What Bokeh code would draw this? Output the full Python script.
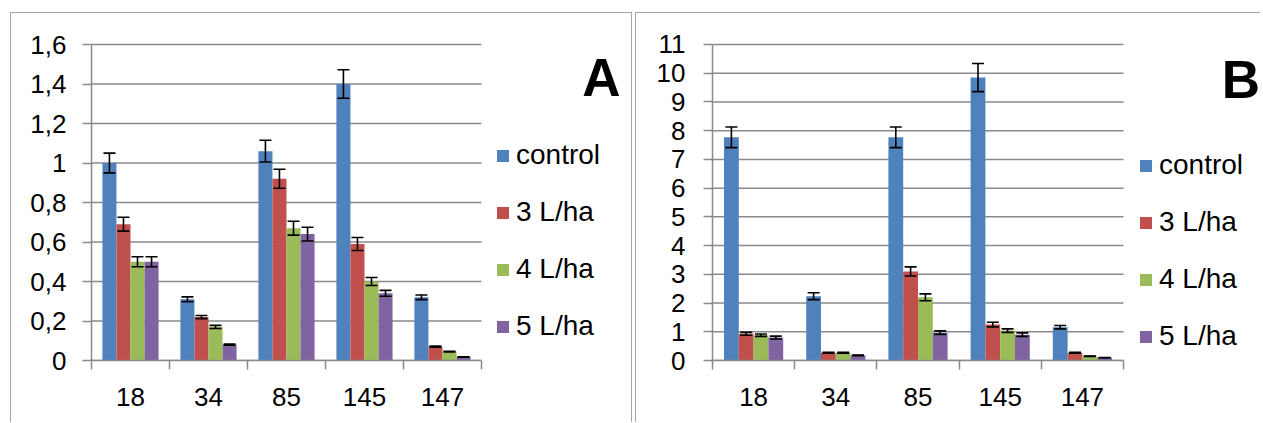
from bokeh.plotting import figure
from bokeh.layouts import row
from bokeh.models import ColumnDataSource, Whisker, TeeHead, FixedTicker, Range1d, Label
from bokeh.embed import file_html
from bokeh.resources import INLINE

days = ["18", "34", "85", "145", "147"]
series = ["control", "3 L/ha", "4 L/ha", "5 L/ha"]
colors = ["#4F81BD", "#C0504D", "#9BBB59", "#8064A2"]

# Panel A values and errors
a_control = [1.00, 0.31, 1.06, 1.40, 0.32]
a_3 = [0.69, 0.22, 0.92, 0.59, 0.07]
a_4 = [0.50, 0.17, 0.67, 0.40, 0.045]
a_5 = [0.50, 0.08, 0.64, 0.34, 0.018]
a_control_err = [0.05, 0.012, 0.055, 0.072, 0.012]
a_3_err = [0.035, 0.008, 0.048, 0.033, 0.003]
a_4_err = [0.025, 0.008, 0.035, 0.02, 0.002]
a_5_err = [0.025, 0.003, 0.035, 0.015, 0.001]
a_ticks = [0, 0.2, 0.4, 0.6, 0.8, 1.0, 1.2, 1.4, 1.6]
a_tick_labels = ["0", "0,2", "0,4", "0,6", "0,8", "1", "1,2", "1,4", "1,6"]

# Panel B values and errors
b_control = [7.77, 2.24, 7.77, 9.85, 1.16]
b_3 = [0.93, 0.27, 3.10, 1.25, 0.27]
b_4 = [0.88, 0.27, 2.20, 1.04, 0.15]
b_5 = [0.80, 0.18, 0.97, 0.90, 0.10]
b_control_err = [0.36, 0.12, 0.36, 0.49, 0.06]
b_3_err = [0.05, 0.015, 0.16, 0.08, 0.015]
b_4_err = [0.04, 0.015, 0.12, 0.06, 0.008]
b_5_err = [0.05, 0.01, 0.06, 0.06, 0.005]
b_ticks = list(range(0, 12))
b_tick_labels = [str(t) for t in b_ticks]

FONT = "Liberation Sans"
GRID = "#8a8a8a"
BORDER = "#a6a6a6"
BAR_W = 0.18
OFFSETS = [-0.27, -0.09, 0.09, 0.27]
NCAT = len(days)


def make_panel(vals, errs, ticks, tick_labels, letter, letter_xy, width, margin,
               mb_left, x_end, y_end, styles, legend_loc, ystandoff):
    p = figure(width=width, height=410, x_range=Range1d(0, x_end),
               y_range=Range1d(ticks[0], y_end),
               output_backend="svg", toolbar_location=None, tools="",
               min_border_left=mb_left, min_border_right=0,
               min_border_top=0, min_border_bottom=63,
               margin=margin, styles=styles)
    p.outline_line_color = None
    p.background_fill_color = "white"
    p.border_fill_color = "white"

    # horizontal gridlines over the category area only
    p.segment(x0=[0] * len(ticks), x1=[NCAT] * len(ticks), y0=ticks, y1=ticks,
              line_color=GRID, line_width=1.5)

    for k, (v, e, name, col) in enumerate(zip(vals, errs, series, colors)):
        xs = [i + 0.5 + OFFSETS[k] for i in range(NCAT)]
        src = ColumnDataSource(dict(x=xs, top=v,
                                    upper=[a + b for a, b in zip(v, e)],
                                    lower=[a - b for a, b in zip(v, e)]))
        p.vbar(x="x", top="top", width=BAR_W, bottom=0, source=src,
               fill_color=col, line_color=None, legend_label=name)
        w = Whisker(base="x", upper="upper", lower="lower", source=src,
                    line_color="black", line_width=1.6, level="annotation",
                    upper_head=TeeHead(size=12, line_color="black", line_width=1.6),
                    lower_head=TeeHead(size=12, line_color="black", line_width=1.6))
        p.add_layout(w)

    # x axis: labels at centers, boundary ticks as minor ticks
    p.xaxis.bounds = (0, NCAT)
    p.xaxis.ticker = FixedTicker(ticks=[i + 0.5 for i in range(NCAT)],
                                 minor_ticks=list(range(NCAT + 1)))
    p.xaxis.major_label_overrides = {i + 0.5: d for i, d in enumerate(days)}
    p.xaxis.major_tick_out = 0
    p.xaxis.major_tick_in = 0
    p.xaxis.minor_tick_out = 9
    p.xaxis.minor_tick_in = 0
    p.xaxis.minor_tick_line_color = GRID
    p.xaxis.minor_tick_line_width = 1.5
    p.xaxis.axis_line_color = GRID
    p.xaxis.axis_line_width = 1.5
    p.xaxis.major_label_standoff = 18
    p.xaxis.major_label_text_font = FONT
    p.xaxis.major_label_text_font_size = "26px"
    p.xaxis.major_label_text_color = "black"

    p.yaxis.bounds = (ticks[0], ticks[-1])
    p.yaxis.ticker = FixedTicker(ticks=ticks, minor_ticks=[])
    p.yaxis.major_label_overrides = {t: s for t, s in zip(ticks, tick_labels)}
    p.yaxis.major_tick_out = 9
    p.yaxis.major_tick_in = 0
    p.yaxis.major_tick_line_color = GRID
    p.yaxis.major_tick_line_width = 1.5
    p.yaxis.axis_line_color = GRID
    p.yaxis.axis_line_width = 1.5
    p.yaxis.major_label_standoff = ystandoff
    p.yaxis.major_label_text_font = FONT
    p.yaxis.major_label_text_font_size = "26px"
    p.yaxis.major_label_text_color = "black"

    p.xgrid.visible = False
    p.ygrid.visible = False

    lg = p.legend[0]
    lg.location = legend_loc
    lg.padding = 0
    lg.margin = 0
    lg.border_line_color = None
    lg.background_fill_alpha = 0
    lg.glyph_width = 15
    lg.glyph_height = 15
    lg.label_height = 32
    lg.spacing = 25
    lg.label_standoff = 6
    lg.label_text_font = FONT
    lg.label_text_font_size = "28px"
    lg.label_text_color = "black"

    p.add_layout(Label(x=letter_xy[0], y=letter_xy[1], text=letter,
                       text_align="right", text_baseline="alphabetic",
                       text_font=FONT, text_font_style="bold",
                       text_font_size="53px", text_color="black"))
    return p


pa = make_panel([a_control, a_3, a_4, a_5],
                [a_control_err, a_3_err, a_4_err, a_5_err],
                a_ticks, a_tick_labels, "A", (6.782, 1.433), 622, (12, 0, 0, 10),
                80, 6.949, 1.757,
                {"border-left": f"1px solid {BORDER}", "border-top": f"1px solid {BORDER}",
                 "border-right": f"1px solid {BORDER}"},
                (404, 18), 16)

pb = make_panel([b_control, b_3, b_4, b_5],
                [b_control_err, b_3_err, b_4_err, b_5_err],
                b_ticks, b_tick_labels, "B", (6.66, 9.77), 625, (12, 0, 0, 3),
                76, 6.679, 12.079,
                {"border-left": f"1px solid {BORDER}", "border-top": f"1px solid {BORDER}"},
                (426, 8), 18)

layout = row(pa, pb)
open("out.html", "w").write(file_html(layout, INLINE))
